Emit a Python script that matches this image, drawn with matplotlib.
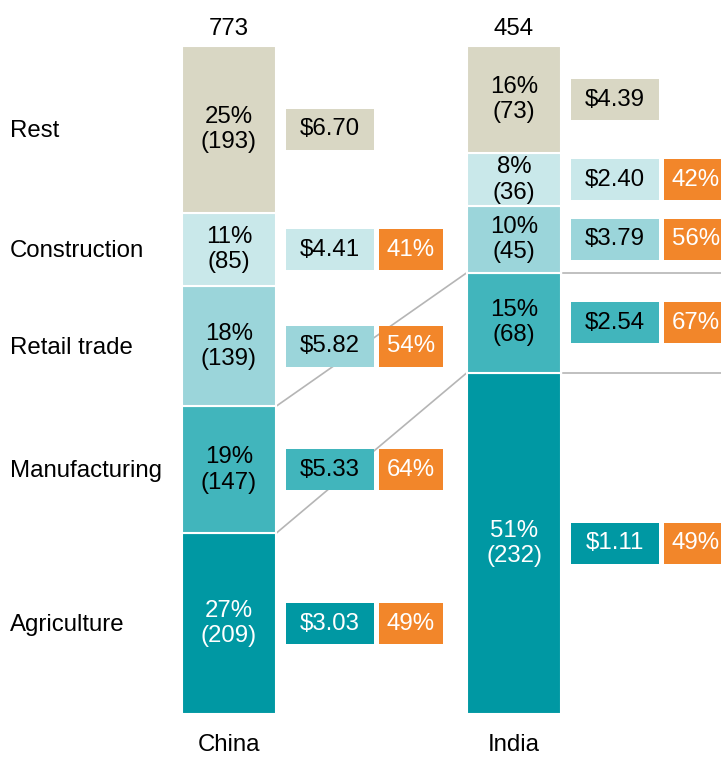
import matplotlib.pyplot as plt
import numpy as np

plt.rcParams['font.family'] = ['Liberation Sans', 'DejaVu Sans']

# data, bottom to top
sectors = ['Agriculture', 'Manufacturing', 'Retail trade', 'Construction', 'Rest']
countries = ['China', 'India']
china_vals = [209, 147, 139, 85, 193]
india_vals = [232, 68, 45, 36, 73]
china_wage = ['$3.03', '$5.33', '$5.82', '$4.41', '$6.70']
india_wage = ['$1.11', '$2.54', '$3.79', '$2.40', '$4.39']
china_share = ['49%', '64%', '54%', '41%', None]
india_share = ['49%', '67%', '56%', '42%', None]

colors = ['#0098a3', '#41b5bc', '#9bd5da', '#c9e8ea', '#d9d7c4']
text_col = ['white', 'black', 'black', 'black', 'black']
orange = '#f2862a'
line_col = '#b5b5b5'

fig = plt.figure(figsize=(7.21, 7.57), dpi=100)
ax = fig.add_axes([0, 43/757, 1, 668/757])
ax.set_xlim(0, 721)
ax.set_ylim(0, 100)
ax.axis('off')

bar_x = [229, 514]
bar_w = 94
box_h = 41 / 6.68
fs = 17.3

for ci, vals in enumerate([china_vals, india_vals]):
    vals = np.array(vals)
    pct = vals / vals.sum() * 100
    bottoms = np.concatenate([[0], np.cumsum(pct)[:-1]])
    ax.bar(bar_x[ci], pct, bottom=bottoms, width=bar_w, color=colors,
           edgecolor='white', linewidth=1.5, zorder=3)
    ax.text(bar_x[ci], 102.5, f'{vals.sum()}', ha='center', va='center', fontsize=fs)
    ax.text(bar_x[ci], -4.6, countries[ci], ha='center', va='center', fontsize=fs)
    wages = [china_wage, india_wage][ci]
    shares = [china_share, india_share][ci]
    x0 = bar_x[ci] + bar_w / 2
    for i in range(len(vals)):
        yc = bottoms[i] + pct[i] / 2
        ax.text(bar_x[ci], yc, f'{round(pct[i])}%\n({vals[i]})', ha='center', va='center',
                fontsize=fs, color=text_col[i], zorder=4)
        ax.bar(x0 + 10 + 44, box_h, bottom=yc - box_h / 2, width=88, color=colors[i], zorder=3)
        ax.text(x0 + 10 + 44, yc, wages[i], ha='center', va='center', fontsize=fs,
                color=text_col[i], zorder=4)
        if shares[i]:
            ax.bar(x0 + 103 + 32, box_h, bottom=yc - box_h / 2, width=64, color=orange, zorder=3)
            ax.text(x0 + 103 + 32, yc, shares[i], ha='center', va='center', fontsize=fs,
                    color='white', zorder=4)
        if ci == 0:
            ax.text(10, yc - 0.2, sectors[i], ha='left', va='center', fontsize=fs)

# connectors between the two bars
c = np.cumsum(np.array(china_vals) / sum(china_vals) * 100)
d = np.cumsum(np.array(india_vals) / sum(india_vals) * 100)
for k in [0, 1]:
    ax.plot([bar_x[0] + bar_w / 2, bar_x[1] - bar_w / 2], [c[k], d[k]],
            color=line_col, lw=1.2, zorder=2)
    ax.plot([bar_x[1] + bar_w / 2 + 2, 721], [d[k], d[k]], color=line_col, lw=1.2, zorder=2)

fig.savefig('out.png', dpi=100)
